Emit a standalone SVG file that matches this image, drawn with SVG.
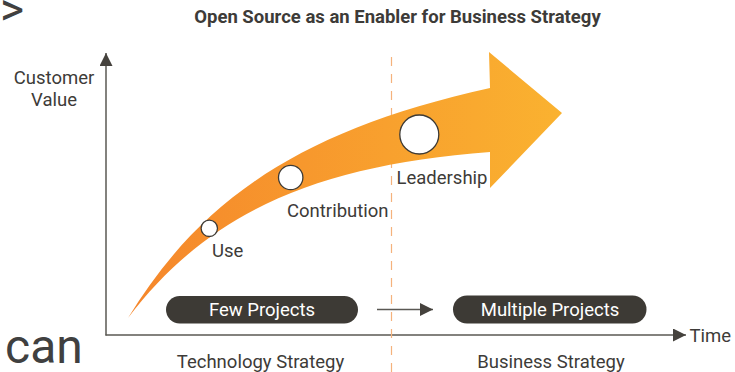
<svg xmlns="http://www.w3.org/2000/svg" width="735" height="372" viewBox="0 0 735 372">
<style>
  text { font-family: Roboto, "Liberation Sans", sans-serif; fill: #3d3b38; }
  .lbl { font-size: 18.5px; }
  .pilltxt { font-size: 18.5px; fill: #ffffff; text-anchor: middle; }
  .pill { fill: #3d3a35; }
  .dot { fill: #ffffff; stroke: #3d3a35; stroke-width: 1.3; }
  .axis { stroke: #5a5853; stroke-width: 1.5; fill: none; }
</style>
<defs>
  <linearGradient id="flow" gradientUnits="userSpaceOnUse" x1="128" y1="0" x2="562" y2="0">
    <stop offset="0" stop-color="#F5862B"/>
    <stop offset="1" stop-color="#FAB230"/>
  </linearGradient>
  <marker id="ah" viewBox="0 0 13 13" refX="13" refY="6.5" markerWidth="13" markerHeight="13" orient="auto" markerUnits="userSpaceOnUse">
    <path d="M0,0 L13,6.5 L0,13 Z" fill="#45423d"/>
  </marker>
</defs>

<text x="0" y="25" style="font-size:46px;fill:#404040">&gt;</text>
<text x="5" y="363" style="font-size:48px;fill:#404040">can</text>

<g id="title">
  <text x="397.5" y="23" text-anchor="middle" style="font-size:18.5px;font-weight:bold">Open Source as an Enabler for Business Strategy</text>
</g>

<g id="connectors">
  <line class="axis" x1="106" y1="335.5" x2="106" y2="53" marker-end="url(#ah)"/>
  <line class="axis" x1="105.5" y1="335" x2="686" y2="335" marker-end="url(#ah)"/>
  <line x1="391.5" y1="57" x2="391.5" y2="372" stroke="#F5B27C" stroke-width="1.2" stroke-dasharray="9,8"/>
  <line class="axis" x1="377" y1="309.5" x2="433" y2="309.5" marker-end="url(#ah)"/>
</g>

<g id="axis-labels">
  <text class="lbl" x="54" y="84" text-anchor="middle">Customer</text>
  <text class="lbl" x="54" y="106" text-anchor="middle">Value</text>
  <text class="lbl" x="689.5" y="342">Time</text>
  <text class="lbl" x="260.5" y="368" text-anchor="middle">Technology Strategy</text>
  <text class="lbl" x="551" y="368" text-anchor="middle">Business Strategy</text>
</g>

<g id="growth-arrow">
  <path d="M128,318 C200,200 300,130 490,88 L489,52 L562,113 L490,188 L490,152 C320,165 210,210 128,318 Z" fill="url(#flow)"/>
</g>

<g id="use">
  <circle class="dot" cx="209.3" cy="228.3" r="8.2"/>
  <text class="lbl" x="212" y="257">Use</text>
</g>
<g id="contribution">
  <circle class="dot" cx="290.7" cy="177.5" r="12.2"/>
  <text class="lbl" x="287" y="217">Contribution</text>
</g>
<g id="leadership">
  <circle class="dot" cx="419.3" cy="134.5" r="19.5"/>
  <text class="lbl" x="396.5" y="184">Leadership</text>
</g>

<g id="few-projects">
  <rect class="pill" x="166" y="296" width="192" height="27.5" rx="13.75"/>
  <text class="pilltxt" x="262" y="315.5">Few Projects</text>
</g>
<g id="multiple-projects">
  <rect class="pill" x="453" y="295.5" width="193.5" height="28" rx="14"/>
  <text class="pilltxt" x="550" y="315.5">Multiple Projects</text>
</g>
</svg>
